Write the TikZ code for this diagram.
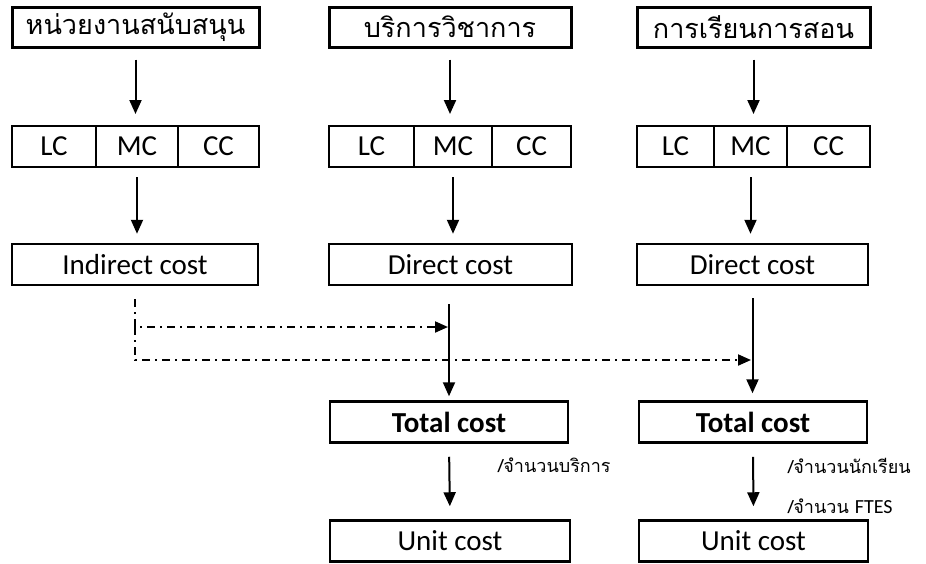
\documentclass[tikz,border=0pt]{standalone}
\usepackage{fontspec}
\setmainfont{Carlito}
\newfontfamily\thai[Script=Thai]{Loma}
\usetikzlibrary{arrows.meta}
\tikzset{box/.style = {draw, line width=2.5pt, inner sep=0pt, minimum height=41pt,
                       font=\fontsize{29}{31}\selectfont}}
\tikzset{headbox/.style = {box, line width=3pt, minimum height=40pt,
                           font=\thai\fontsize{27}{30}\selectfont}}
\tikzset{cell/.style = {box, line width=2pt}}
\tikzset{arr/.style = {line width=2pt, -{Triangle[width=12pt,length=14pt]}}}
\tikzset{dd/.style = {line width=2pt, dash pattern=on 8pt off 5pt on 2pt off 5pt}}
\tikzset{lbl/.style = {anchor=west, inner sep=0pt, font=\thai\fontsize{18}{20}\selectfont}}

\begin{document}
\begin{tikzpicture}[x=1pt, y=-1pt]
      \useasboundingbox (0,0) rectangle (926,563);

      % top row
      \node [headbox, minimum width=247] (supA) at (135.5,27) {หน่วยงานสนับสนุน};
      \node [headbox, minimum width=242] (supB) at (450,27) {บริการวิชาการ};
      \node [headbox, minimum width=233] (supC) at (753.5,27) {การเรียนการสอน};

      % LC MC CC
      \node [cell, minimum width=84] (lcA) at (54,146.5) {LC};
      \node [cell, minimum width=82] (mcA) at (137,146.5) {MC};
      \node [cell, minimum width=81] (ccA) at (218.5,146.5) {CC};
      \node [cell, minimum width=85] (lcB) at (371.5,146.5) {LC};
      \node [cell, minimum width=78] (mcB) at (453,146.5) {MC};
      \node [cell, minimum width=79] (ccB) at (531.5,146.5) {CC};
      \node [cell, minimum width=77] (lcC) at (675.5,146.5) {LC};
      \node [cell, minimum width=73] (mcC) at (750.5,146.5) {MC};
      \node [cell, minimum width=83] (ccC) at (828.5,146.5) {CC};

      % costs
      \node [box, minimum width=246] (indA) at (135,264.5) {Indirect cost};
      \node [box, minimum width=243] (dirB) at (450.5,264.5) {Direct cost};
      \node [box, minimum width=231] (dirC) at (752.5,264.5) {Direct cost};

      \node [box, minimum width=238, font=\fontsize{29}{31}\selectfont\bfseries] (totB) at (449,422) {Total cost};
      \node [box, minimum width=228, font=\fontsize{29}{31}\selectfont\bfseries] (totC) at (753,422) {Total cost};

      \node [box, minimum width=240] (unitB) at (450,541) {Unit cost};
      \node [box, minimum width=229] (unitC) at (753.5,541) {Unit cost};

      % arrows
      \draw [arr, shorten <=11pt, shorten >=11pt] (supA.south) -- (supA.south |- mcA.north);
      \draw [arr, shorten <=11pt, shorten >=11pt] (supB.south) -- (supB.south |- mcB.north);
      \draw [arr, shorten <=11pt, shorten >=11pt] (supC.south) -- (supC.south |- mcC.north);
      \draw [arr, shorten <=9pt, shorten >=9pt] (mcA.south) -- (mcA.south |- indA.north);
      \draw [arr, shorten <=9pt, shorten >=9pt] (mcB.south) -- (mcB.south |- dirB.north);
      \draw [arr, shorten <=9pt, shorten >=9pt] (mcC.south) -- (mcC.south |- dirC.north);
      \draw [arr, shorten <=18pt, shorten >=4pt] (dirB.south -| totB.north) -- (totB.north);
      \draw [arr, shorten <=12pt, shorten >=7pt] (dirC.south) -- (dirC.south |- totC.north);
      \draw [arr, shorten <=13pt, shorten >=13pt] (totB.south) -- (unitB.north);
      \draw [arr, shorten <=13pt, shorten >=13pt] (totC.south) -- (unitC.north);

      % indirect cost shares
      \coordinate (jB) at (448,327);
      \coordinate (jC) at (751,360);
      \draw [dd, -{Triangle[width=11pt,length=13pt]}] ([yshift=-13pt]indA.south) |- (jB);
      \draw [dd, -{Triangle[width=11pt,length=13pt]}] (indA.south |- jB) |- (jC);

      % divisors
      \node [lbl] (perB) at (498,465) {/จำนวนบริการ};
      \node [lbl] (perC) at (788,466) {/จำนวนนักเรียน};
      \node [lbl] (fteC) at (788,506) {/จำนวน {\normalfont\fontsize{20}{22}\selectfont FTES}};
\end{tikzpicture}
\end{document}
